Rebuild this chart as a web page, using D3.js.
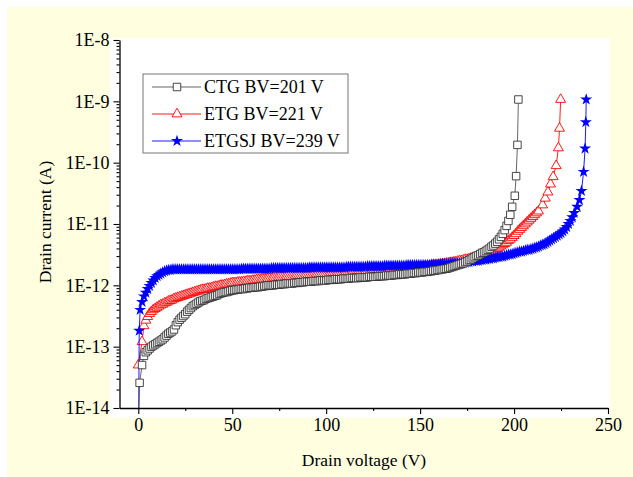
<!DOCTYPE html>
<html><head><meta charset="utf-8">
<script src="https://cdn.jsdelivr.net/npm/d3@7"></script>
<style>body{margin:0;background:#fff}svg{display:block}
text{font-family:"Liberation Serif","Times New Roman","DejaVu Serif",serif;}</style>
</head><body><svg id="c" width="633" height="477"></svg>
<script>
// ---------- DATA ----------
const seriesNames = ["CTG BV=201 V", "ETG BV=221 V", "ETGSJ BV=239 V"];
const xTicks = [0, 50, 100, 150, 200, 250];
const xMinorTicks = [25, 75, 125, 175, 225];
const yTickExponents = [-14, -13, -12, -11, -10, -9, -8];

// Drain voltage (V) sweeps
const ctgVoltage = [0, 0.7, ...d3.range(2, 200), 200.4, 201.1, 201.8, 202.3];
const etgVoltage = [0, ...d3.range(2, 214), 215.2, 216.6, 218, 219.4, 220.8, 222.4, 223.6, 224.2, 224.8];
const etgsjVoltage = [0, 0.5, ...d3.range(1, 233), 233.6, 234.8, 235.9, 237, 237.8, 238.2, 238.4];

// log10 of drain current (A)
const ctgLogCurrent = [-14.6, -13.59,
 -13.30,-13.15,-13.09,-13.06,-13.03,-13.00,-12.98,-12.96,
 -12.94,-12.92,-12.90,-12.88,-12.85,-12.82,-12.79,-12.77,-12.75,-12.72,
 -12.65,-12.60,-12.56,-12.53,-12.50,-12.47,-12.43,-12.40,-12.37,-12.34,
 -12.32,-12.30,-12.28,-12.26,-12.25,-12.24,-12.22,-12.21,-12.20,-12.19,
 -12.18,-12.17,-12.16,-12.14,-12.13,-12.12,-12.11,-12.11,-12.10,-12.09,
 -12.08,-12.08,-12.07,-12.07,-12.06,-12.06,-12.06,-12.05,-12.05,-12.04,
 -12.04,-12.04,-12.03,-12.03,-12.03,-12.02,-12.02,-12.01,-12.01,-12.00,
 -12.00,-12.00,-12.00,-11.99,-11.99,-11.99,-11.98,-11.98,-11.98,-11.97,
 -11.97,-11.97,-11.97,-11.96,-11.96,-11.96,-11.95,-11.95,-11.95,-11.94,
 -11.94,-11.94,-11.94,-11.93,-11.93,-11.93,-11.93,-11.92,-11.92,-11.92,
 -11.92,-11.91,-11.91,-11.91,-11.91,-11.90,-11.90,-11.90,-11.90,-11.89,
 -11.89,-11.89,-11.89,-11.88,-11.88,-11.88,-11.88,-11.88,-11.87,-11.87,
 -11.87,-11.87,-11.87,-11.86,-11.86,-11.86,-11.86,-11.86,-11.85,-11.85,
 -11.85,-11.85,-11.84,-11.84,-11.84,-11.84,-11.83,-11.83,-11.83,-11.82,
 -11.82,-11.82,-11.82,-11.81,-11.81,-11.81,-11.80,-11.80,-11.80,-11.79,
 -11.79,-11.79,-11.78,-11.78,-11.78,-11.77,-11.77,-11.76,-11.76,-11.75,
 -11.75,-11.74,-11.74,-11.73,-11.73,-11.72,-11.71,-11.70,-11.69,-11.68,
 -11.67,-11.66,-11.65,-11.64,-11.62,-11.61,-11.59,-11.58,-11.56,-11.54,
 -11.52,-11.51,-11.49,-11.47,-11.46,-11.44,-11.42,-11.40,-11.37,-11.35,
 -11.32,-11.29,-11.25,-11.21,-11.16,-11.10,-11.03,-10.95,-10.85,-10.72,
 -10.54,-10.22,-9.71,-8.97];

const etgLogCurrent = [-13.30,
 -12.92,-12.66,-12.57,-12.51,-12.46,-12.43,-12.40,-12.38,
 -12.36,-12.34,-12.32,-12.31,-12.29,-12.28,-12.26,-12.25,-12.24,-12.22,
 -12.21,-12.20,-12.19,-12.18,-12.17,-12.16,-12.15,-12.14,-12.13,-12.12,
 -12.11,-12.10,-12.09,-12.08,-12.07,-12.07,-12.06,-12.05,-12.05,-12.04,
 -12.03,-12.02,-12.02,-12.01,-12.00,-12.00,-11.99,-11.98,-11.98,-11.97,
 -11.96,-11.96,-11.96,-11.95,-11.95,-11.95,-11.94,-11.94,-11.93,-11.93,
 -11.93,-11.92,-11.92,-11.91,-11.91,-11.91,-11.90,-11.90,-11.90,-11.89,
 -11.89,-11.89,-11.88,-11.88,-11.88,-11.87,-11.87,-11.87,-11.87,-11.86,
 -11.86,-11.86,-11.86,-11.86,-11.85,-11.85,-11.85,-11.85,-11.85,-11.84,
 -11.84,-11.84,-11.84,-11.84,-11.84,-11.83,-11.83,-11.83,-11.83,-11.83,
 -11.83,-11.83,-11.82,-11.82,-11.82,-11.82,-11.81,-11.81,-11.81,-11.81,
 -11.80,-11.80,-11.80,-11.80,-11.79,-11.79,-11.79,-11.78,-11.78,-11.78,
 -11.78,-11.77,-11.77,-11.77,-11.76,-11.76,-11.76,-11.76,-11.75,-11.75,
 -11.75,-11.75,-11.74,-11.74,-11.74,-11.74,-11.73,-11.73,-11.73,-11.73,
 -11.72,-11.72,-11.72,-11.72,-11.71,-11.71,-11.71,-11.71,-11.70,-11.70,
 -11.70,-11.70,-11.69,-11.69,-11.69,-11.68,-11.68,-11.67,-11.67,-11.67,
 -11.66,-11.66,-11.65,-11.65,-11.64,-11.64,-11.63,-11.63,-11.62,-11.62,
 -11.61,-11.60,-11.60,-11.59,-11.58,-11.58,-11.57,-11.56,-11.55,-11.55,
 -11.54,-11.53,-11.52,-11.51,-11.50,-11.49,-11.48,-11.46,-11.45,-11.43,
 -11.41,-11.40,-11.38,-11.36,-11.34,-11.32,-11.30,-11.27,-11.25,-11.22,
 -11.19,-11.16,-11.12,-11.09,-11.06,-11.03,-11.00,-10.97,-10.94,-10.91,
 -10.88,-10.85,-10.82,-10.79,
 -10.69,-10.58,-10.48,-10.35,-10.23,-10.05,-9.76,-9.44,-8.97];

const etgsjLogCurrent = [-15, -12.74,
 -12.40,-12.27,-12.18,-12.12,-12.06,-12.01,-11.96,-11.92,-11.88,
 -11.85,-11.83,-11.81,-11.79,-11.77,-11.76,-11.75,-11.75,-11.74,-11.74,
 -11.74,-11.74,-11.74,-11.74,-11.74,-11.74,-11.74,-11.74,-11.74,-11.74,
 -11.74,-11.74,-11.74,-11.74,-11.74,-11.74,-11.74,-11.74,-11.74,-11.74,
 -11.74,-11.74,-11.74,-11.74,-11.74,-11.74,-11.74,-11.74,-11.74,-11.74,
 -11.74,-11.74,-11.74,-11.74,-11.74,-11.73,-11.73,-11.73,-11.73,-11.73,
 -11.73,-11.73,-11.73,-11.73,-11.73,-11.73,-11.73,-11.73,-11.73,-11.73,
 -11.73,-11.72,-11.72,-11.72,-11.72,-11.72,-11.72,-11.72,-11.72,-11.72,
 -11.72,-11.72,-11.72,-11.72,-11.72,-11.72,-11.72,-11.72,-11.72,-11.72,
 -11.72,-11.71,-11.71,-11.71,-11.71,-11.71,-11.71,-11.71,-11.71,-11.71,
 -11.71,-11.71,-11.71,-11.71,-11.71,-11.71,-11.71,-11.71,-11.71,-11.71,
 -11.71,-11.70,-11.70,-11.70,-11.70,-11.70,-11.70,-11.70,-11.70,-11.70,
 -11.70,-11.70,-11.69,-11.69,-11.69,-11.69,-11.69,-11.69,-11.69,-11.69,
 -11.69,-11.68,-11.68,-11.68,-11.68,-11.68,-11.68,-11.68,-11.68,-11.68,
 -11.68,-11.68,-11.68,-11.67,-11.67,-11.67,-11.67,-11.67,-11.67,-11.67,
 -11.67,-11.67,-11.67,-11.67,-11.67,-11.67,-11.66,-11.66,-11.66,-11.66,
 -11.66,-11.65,-11.65,-11.65,-11.65,-11.65,-11.64,-11.64,-11.64,-11.64,
 -11.64,-11.64,-11.64,-11.63,-11.63,-11.62,-11.62,-11.61,-11.61,-11.60,
 -11.60,-11.60,-11.59,-11.59,-11.58,-11.58,-11.57,-11.57,-11.56,-11.56,
 -11.55,-11.54,-11.54,-11.53,-11.53,-11.52,-11.51,-11.50,-11.50,-11.49,
 -11.48,-11.47,-11.46,-11.45,-11.45,-11.44,-11.43,-11.42,-11.42,-11.41,
 -11.40,-11.39,-11.38,-11.37,-11.35,-11.34,-11.33,-11.31,-11.29,-11.27,
 -11.25,-11.23,-11.21,-11.19,-11.17,-11.15,-11.12,-11.09,-11.05,-11.00,
 -10.95,-10.89,-10.82,
 -10.72,-10.61,-10.46,-10.15,-9.77,-9.34,-8.97];

// ---------- CHART ----------
const svg = d3.select("#c");
svg.append("rect").attr("x",7).attr("y",7).attr("width",626).attr("height",470).attr("fill","#ffffe0");
svg.append("rect").attr("x",110).attr("y",38).attr("width",500).attr("height",380).attr("fill","#fff");

const x = d3.scaleLinear().domain([-10, 250]).range([119.5, 608]);
const y = d3.scaleLog().domain([1e-14, 1e-8]).range([408, 40]);

svg.append("defs").append("clipPath").attr("id","clip")
  .append("rect").attr("x",119).attr("y",30).attr("width",514).attr("height",378.5);

function makeData(V, L){ return V.map((v,i)=>({v, c: Math.pow(10, L[i])})); }
const series = [
  {name: seriesNames[0], data: makeData(ctgVoltage, ctgLogCurrent), line:"#555", sym:d3.symbolSquare, size:56, fill:"#fff", stroke:"#333", sw:0.9},
  {name: seriesNames[1], data: makeData(etgVoltage, etgLogCurrent), line:"#ff0000", sym:d3.symbolTriangle, size:43, fill:"#fff", stroke:"#ff0000", sw:0.9},
  {name: seriesNames[2], data: makeData(etgsjVoltage, etgsjLogCurrent), line:"#0000ff", sym:d3.symbolStar, size:45, fill:"#0000ff", stroke:"none", sw:0}
];

const plot = svg.append("g").attr("clip-path","url(#clip)");
const lineGen = d3.line().x(d=>x(d.v)).y(d=>y(d.c));
[1,2,0].forEach(k=>{
  const s = series[k];
  const g = plot.append("g");
  g.append("path").attr("d", lineGen(s.data)).attr("fill","none").attr("stroke", s.line).attr("stroke-width",0.9);
  g.selectAll("path.m").data(s.data).join("path").attr("class","m")
    .attr("transform", d=>`translate(${x(d.v)},${y(d.c)})`)
    .attr("d", d3.symbol(s.sym, s.size)())
    .attr("fill", s.fill).attr("stroke", s.stroke).attr("stroke-width", s.sw);
});

// axes
svg.append("g").attr("transform","translate(0,408)")
  .call(d3.axisBottom(x).tickValues(xTicks).tickSize(6).tickSizeOuter(0).tickPadding(4));
svg.append("g").attr("transform","translate(0,408)")
  .call(d3.axisBottom(x).tickValues(xMinorTicks).tickSize(3).tickFormat("")).select(".domain").remove();
svg.append("g").attr("transform","translate(119.5,0)")
  .call(d3.axisLeft(y).tickValues(yTickExponents.map(e=>Math.pow(10,e)))
    .tickFormat(d=>"1E" + Math.round(Math.log10(d))).tickSize(6).tickSizeOuter(0).tickPadding(4));
const minorY = [];
yTickExponents.slice(0,-1).forEach(e=>{ for(let k=2;k<=9;k++) minorY.push(k*Math.pow(10,e)); });
svg.append("g").attr("transform","translate(119.5,0)")
  .call(d3.axisLeft(y).tickValues(minorY).tickSize(3).tickFormat("")).select(".domain").remove();

svg.selectAll("g").attr("font-family", null);
svg.selectAll(".domain").attr("stroke","#000").attr("stroke-width",1.3);
svg.selectAll(".tick line").attr("stroke","#000").attr("stroke-width",1.1);
svg.selectAll(".tick text").style("font-size","18px").attr("fill","#000");

svg.append("text").attr("x",364).attr("y",466).attr("text-anchor","middle")
  .style("font-size","17.5px").text("Drain voltage (V)");
svg.append("text").attr("transform","translate(51,222) rotate(-90)").attr("text-anchor","middle")
  .style("font-size","17.5px").text("Drain current (A)");

// legend
const lg = svg.append("g");
lg.append("rect").attr("x",143).attr("y",74).attr("width",205).attr("height",79)
  .attr("fill","#fff").attr("stroke","#777").attr("stroke-width",1);
const rows = [87, 114, 141];
series.forEach((s,i)=>{
  const ry = rows[i];
  lg.append("line").attr("x1",152).attr("x2",201).attr("y1",ry).attr("y2",ry).attr("stroke", s.line).attr("stroke-width",0.9);
  lg.append("path").attr("transform",`translate(177,${ry})`).attr("d", d3.symbol(s.sym, s.size)())
    .attr("fill", s.fill).attr("stroke", s.stroke).attr("stroke-width", s.sw);
  lg.append("text").attr("x",204).attr("y",ry+6).style("font-size","18px").text(s.name);
});
</script></body></html>
